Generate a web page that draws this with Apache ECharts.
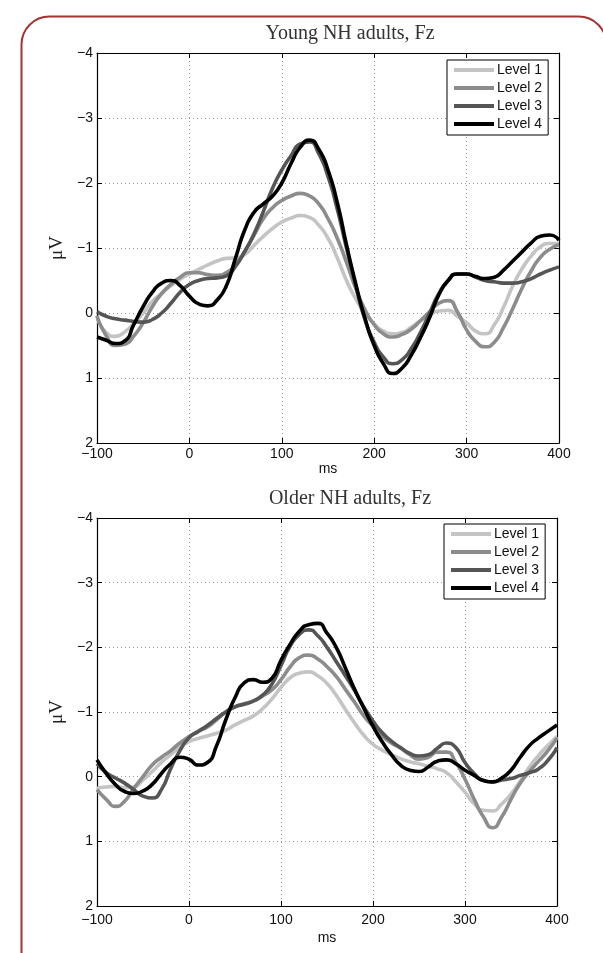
<!DOCTYPE html>
<html><head><meta charset="utf-8">
<script src="https://cdn.jsdelivr.net/npm/echarts@6/dist/echarts.min.js"></script>
<style>html,body{margin:0;padding:0;background:#fff}#c{width:603px;height:953px}</style>
</head><body><div id="c"></div>
<script>
const times = [-100,-90,-80,-70,-60,-50,-40,-30,-20,-10,0,10,20,30,40,50,60,70,80,90,100,110,120,130,140,150,160,170,180,190,200,210,220,230,240,250,260,270,280,290,300,310,320,330,340,350,360,370,380,390,400];
const xTicks = [-100, 0, 100, 200, 300, 400];
const yTicks = [-4, -3, -2, -1, 0, 1, 2];
const levels = ['Level 1', 'Level 2', 'Level 3', 'Level 4'];
const titles = ['Young NH adults, Fz', 'Older NH adults, Fz'];

// Young NH adults (µV, negative up)
const youngL1 = [0.06,0.3,0.36,0.29,0.16,0.0,-0.18,-0.3,-0.42,-0.52,-0.6,-0.67,-0.74,-0.8,-0.84,-0.85,-0.9,-1.04,-1.18,-1.3,-1.4,-1.46,-1.5,-1.47,-1.35,-1.15,-0.85,-0.5,-0.22,0.0,0.17,0.28,0.32,0.3,0.22,0.12,0.03,-0.03,-0.04,0.05,0.15,0.28,0.32,0.18,-0.09,-0.42,-0.68,-0.88,-1.02,-1.07,-1.07];
const youngL2 = [0.04,0.35,0.5,0.48,0.35,0.15,-0.1,-0.3,-0.44,-0.55,-0.62,-0.62,-0.59,-0.58,-0.62,-0.75,-0.95,-1.2,-1.45,-1.62,-1.73,-1.8,-1.84,-1.8,-1.68,-1.45,-1.15,-0.78,-0.38,-0.05,0.18,0.32,0.37,0.33,0.25,0.12,-0.02,-0.15,-0.19,-0.02,0.26,0.44,0.52,0.45,0.22,-0.07,-0.38,-0.65,-0.86,-0.98,-1.05];
const youngL3 = [-0.02,0.05,0.09,0.11,0.13,0.14,0.1,0.0,-0.15,-0.32,-0.44,-0.5,-0.53,-0.54,-0.57,-0.72,-0.95,-1.22,-1.56,-1.92,-2.2,-2.42,-2.6,-2.63,-2.45,-2.1,-1.6,-1.0,-0.42,0.1,0.45,0.68,0.78,0.72,0.55,0.3,0.0,-0.3,-0.5,-0.6,-0.6,-0.55,-0.5,-0.48,-0.46,-0.46,-0.48,-0.53,-0.6,-0.66,-0.71];
const youngL4 = [0.37,0.42,0.47,0.43,0.17,-0.1,-0.32,-0.46,-0.5,-0.42,-0.26,-0.14,-0.11,-0.2,-0.42,-0.85,-1.28,-1.55,-1.68,-1.8,-2.0,-2.3,-2.55,-2.66,-2.52,-2.2,-1.7,-1.05,-0.45,0.08,0.5,0.78,0.93,0.85,0.65,0.38,0.07,-0.28,-0.5,-0.6,-0.6,-0.56,-0.53,-0.55,-0.66,-0.8,-0.94,-1.08,-1.18,-1.2,-1.12];

// Older NH adults
const olderL1 = [0.18,0.16,0.15,0.17,0.16,0.05,-0.08,-0.22,-0.34,-0.45,-0.54,-0.59,-0.63,-0.67,-0.72,-0.8,-0.87,-0.94,-1.05,-1.2,-1.38,-1.53,-1.6,-1.62,-1.56,-1.44,-1.26,-1.04,-0.83,-0.64,-0.5,-0.41,-0.34,-0.28,-0.23,-0.2,-0.16,-0.12,-0.06,0.08,0.24,0.42,0.52,0.53,0.42,0.27,0.07,-0.15,-0.33,-0.48,-0.62];
const olderL2 = [0.2,0.35,0.46,0.38,0.18,0.0,-0.18,-0.3,-0.4,-0.52,-0.62,-0.7,-0.77,-0.88,-1.0,-1.08,-1.13,-1.17,-1.25,-1.34,-1.5,-1.7,-1.84,-1.88,-1.82,-1.7,-1.55,-1.35,-1.15,-0.94,-0.78,-0.63,-0.52,-0.44,-0.34,-0.27,-0.3,-0.38,-0.38,-0.22,0.04,0.35,0.62,0.79,0.62,0.35,0.1,-0.08,-0.24,-0.4,-0.6];
const olderL3 = [-0.2,-0.06,0.02,0.1,0.2,0.3,0.33,0.2,-0.12,-0.4,-0.6,-0.7,-0.79,-0.9,-1.0,-1.08,-1.12,-1.17,-1.26,-1.43,-1.72,-2.02,-2.2,-2.27,-2.18,-2.0,-1.78,-1.56,-1.33,-1.08,-0.86,-0.68,-0.55,-0.45,-0.36,-0.32,-0.34,-0.44,-0.52,-0.45,-0.22,-0.05,0.06,0.08,0.05,0.03,-0.02,-0.06,-0.12,-0.25,-0.45];
const olderL4 = [-0.26,-0.05,0.12,0.23,0.26,0.22,0.12,-0.05,-0.2,-0.3,-0.27,-0.18,-0.22,-0.48,-0.88,-1.22,-1.45,-1.5,-1.46,-1.52,-1.8,-2.05,-2.25,-2.35,-2.37,-2.22,-2.0,-1.68,-1.35,-1.06,-0.78,-0.54,-0.34,-0.18,-0.1,-0.08,-0.15,-0.24,-0.26,-0.2,-0.1,-0.02,0.06,0.08,0.02,-0.1,-0.3,-0.48,-0.6,-0.7,-0.8];

const colors = ['#c4c4c4', '#8c8c8c', '#555555', '#000000'];
const panels = [[youngL1, youngL2, youngL3, youngL4], [olderL1, olderL2, olderL3, olderL4]];

const grids = [
  {left: 97, top: 53, width: 462, height: 390},
  {left: 97, top: 518, width: 460, height: 388}
];
const legendPos = [{left: 447, top: 60}, {left: 444, top: 524}];
const msGap = [14, 25];
const labelMargin = [4, 7];

const sans = 'Liberation Sans';
const serif = 'Liberation Serif';
const fmt = v => String(v).replace('-', '\u2212');

const xAxis = [], yAxis = [], series = [], legend = [], title = [];
grids.forEach((g, i) => {
  const common = {min: -100, max: 400, interval: 100, gridIndex: i, type: 'value'};
  xAxis.push(Object.assign({}, common, {
    position: 'bottom',
    axisLine: {show: true, onZero: false, lineStyle: {color: '#000', width: 1.2}},
    axisTick: {show: true, inside: true, length: 5, lineStyle: {color: '#000'}},
    axisLabel: {show: true, color: '#111', fontFamily: sans, fontSize: 14, margin: labelMargin[i], formatter: fmt},
    splitLine: {show: true, lineStyle: {color: '#999', type: [1, 3], width: 1}},
    name: 'ms', nameLocation: 'middle', nameGap: msGap[i],
    nameTextStyle: {color: '#111', fontFamily: sans, fontSize: 14}
  }));
  xAxis.push(Object.assign({}, common, {
    position: 'top',
    axisLine: {show: true, onZero: false, lineStyle: {color: '#000', width: 1.2}},
    axisTick: {show: true, inside: true, length: 5, lineStyle: {color: '#000'}},
    axisLabel: {show: false}, splitLine: {show: false}
  }));
  const yc = {min: -4, max: 2, interval: 1, inverse: true, gridIndex: i, type: 'value'};
  yAxis.push(Object.assign({}, yc, {
    position: 'left',
    axisLine: {show: true, onZero: false, lineStyle: {color: '#000', width: 1.2}},
    axisTick: {show: true, inside: true, length: 5, lineStyle: {color: '#000'}},
    axisLabel: {show: true, color: '#111', fontFamily: sans, fontSize: 14, margin: 4, formatter: fmt},
    splitLine: {show: true, lineStyle: {color: '#999', type: [1, 3], width: 1}},
    name: '\u03bcV', nameLocation: 'middle', nameGap: 21,
    nameTextStyle: {color: '#222', fontFamily: serif, fontSize: 19}
  }));
  yAxis.push(Object.assign({}, yc, {
    position: 'right',
    axisLine: {show: true, onZero: false, lineStyle: {color: '#000', width: 1.2}},
    axisTick: {show: true, inside: true, length: 5, lineStyle: {color: '#000'}},
    axisLabel: {show: false}, splitLine: {show: false}
  }));
  panels[i].forEach((vals, k) => {
    series.push({
      type: 'line', name: levels[k], xAxisIndex: i * 2, yAxisIndex: i * 2,
      data: times.map((t, j) => [t, vals[j]]),
      smooth: 0.6, showSymbol: false, symbol: 'none',
      lineStyle: {color: colors[k], width: 3.6}, itemStyle: {color: colors[k]},
      z: 2 + k, silent: true, animation: false
    });
  });
  legend.push({
    data: levels, orient: 'vertical', left: legendPos[i].left, top: legendPos[i].top,
    backgroundColor: '#fff', borderColor: '#000', borderWidth: 1, borderRadius: 0,
    padding: [3, 6, 4, 7], itemGap: 4, itemWidth: 40, itemHeight: 4, icon: 'rect',
    textStyle: {color: '#111', fontFamily: sans, fontSize: 14, padding: [0, 0, 0, -2]},
    selectedMode: false
  });
  title.push({
    text: titles[i], left: 345, top: i === 0 ? 19 : 484, textAlign: 'center',
    textStyle: {color: '#333', fontFamily: serif, fontSize: 20, fontWeight: 'normal'}
  });
});

const chart = echarts.init(document.getElementById('c'), null, {renderer: 'canvas'});
chart.setOption({
  backgroundColor: '#fff',
  animation: false,
  title, grid: grids, xAxis, yAxis, series, legend,
  graphic: [{
    type: 'rect', left: 19, top: 14, silent: true,
    shape: {width: 585, height: 1000, r: 28},
    style: {fill: 'none', stroke: '#a33333', lineWidth: 2}, z: -1
  }]
});
</script></body></html>
